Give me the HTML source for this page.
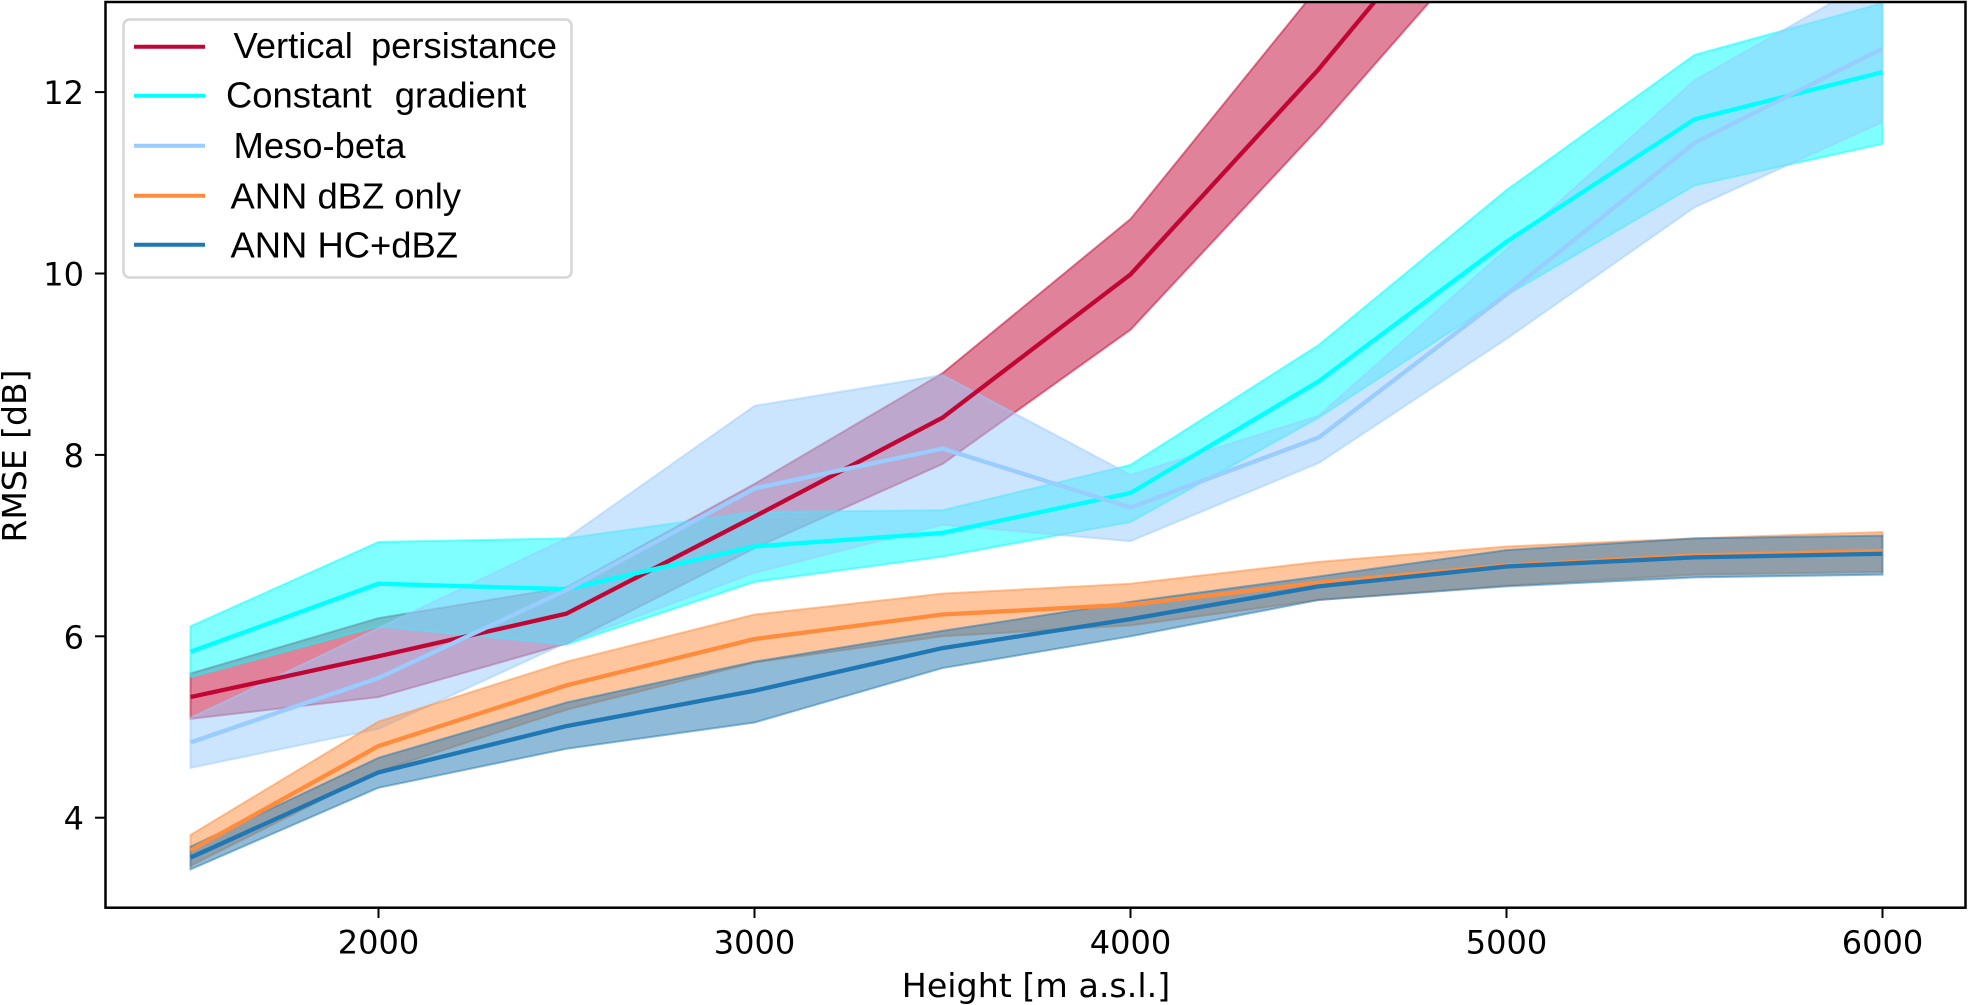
<!DOCTYPE html>
<html lang="en">
<head>
<meta charset="utf-8">
<title>RMSE by height</title>
<style>
html,body{margin:0;padding:0;background:#fff;width:1968px;height:1005px;overflow:hidden}
svg{display:block}
text{font-family:"DejaVu Sans","Liberation Sans",sans-serif;fill:#000}
.lg{font-family:"Liberation Sans",sans-serif}
</style>
</head>
<body>
<svg id="chart" xmlns="http://www.w3.org/2000/svg" width="1968" height="1005" viewBox="0 0 1968 1005">
  <defs><clipPath id="plot-clip"><rect x="105.5" y="2" width="1860" height="905.7"/></clipPath></defs>
  <rect width="1968" height="1005" fill="#fff"/>
  <g id="bands" clip-path="url(#plot-clip)"></g>
  <g id="lines" clip-path="url(#plot-clip)"></g>
  <g id="xticks"></g>
  <g id="yticks"></g>
  <rect x="105.5" y="2" width="1860" height="905.7" fill="none" stroke="#000" stroke-width="2.5"/>
  <text x="1036" y="997" font-size="33.3" text-anchor="middle">Height [m a.s.l.]</text>
  <text transform="translate(26,456) rotate(-90)" font-size="33" text-anchor="middle">RMSE [dB]</text>
  <g>
    <rect x="123.5" y="19.5" width="448" height="258" rx="6" fill="#fff" stroke="#d6d6d6" stroke-width="2.5"/>
    <g>
      <line x1="134" x2="205" y1="46.7" y2="46.7" stroke="#c10534" stroke-width="4"/>
      <text class="lg" x="233.5" y="58" font-size="36.4" word-spacing="8">Vertical persistance</text>
    </g>
    <g>
      <line x1="134" x2="205" y1="95.7" y2="95.7" stroke="#00ffff" stroke-width="4"/>
      <text class="lg" x="226" y="107.5" font-size="36.4" word-spacing="13">Constant gradient</text>
    </g>
    <g>
      <line x1="134" x2="205" y1="145.7" y2="145.7" stroke="#99ccff" stroke-width="4"/>
      <text class="lg" x="233.5" y="158" font-size="36.4">Meso-beta</text>
    </g>
    <g>
      <line x1="134" x2="205" y1="195.7" y2="195.7" stroke="#ff8c3c" stroke-width="4"/>
      <text class="lg" x="230.5" y="208.5" font-size="36.4">ANN dBZ only</text>
    </g>
    <g>
      <line x1="134" x2="205" y1="244.7" y2="244.7" stroke="#1f77b4" stroke-width="4"/>
      <text class="lg" x="230.5" y="257.5" font-size="36.4">ANN HC+dBZ</text>
    </g>
  </g>
</svg>
<script>
const heights = [1500,2000,2500,3000,3500,4000,4500,5000,5500,6000];
const xTickValues = [2000,3000,4000,5000,6000];
const yTickValues = [4,6,8,10,12];

const verticalMean  = [5.33,5.78,6.25,7.32,8.41,9.99,12.25,14.75,17.5,20.0];
const verticalUpper = [5.59,6.20,6.54,7.68,8.90,10.60,13.16,15.5,18.4,21.0];
const verticalLower = [5.09,5.33,5.92,6.97,7.90,9.38,11.60,13.96,16.6,19.0];

const gradientMean  = [5.83,6.58,6.52,6.99,7.14,7.58,8.81,10.35,11.70,12.22];
const gradientUpper = [6.11,7.04,7.08,7.37,7.39,7.89,9.21,10.92,12.41,12.98];
const gradientLower = [5.55,6.11,5.91,6.60,6.88,7.26,8.41,9.76,10.97,11.43];

const mesoMean  = [4.83,5.54,6.51,7.63,8.07,7.42,8.19,9.77,11.44,12.48];
const mesoUpper = [5.10,6.09,7.08,8.54,8.88,7.78,8.43,10.27,12.13,13.30];
const mesoLower = [4.55,4.98,5.93,6.70,7.23,7.05,7.91,9.28,10.73,11.67];

const dbzMean  = [3.64,4.79,5.46,5.97,6.24,6.35,6.59,6.78,6.89,6.94];
const dbzUpper = [3.81,5.06,5.72,6.24,6.47,6.58,6.82,6.99,7.08,7.15];
const dbzLower = [3.47,4.51,5.19,5.71,6.00,6.12,6.40,6.56,6.68,6.71];

const hcMean  = [3.56,4.50,5.01,5.40,5.87,6.19,6.55,6.77,6.87,6.91];
const hcUpper = [3.68,4.66,5.27,5.72,6.06,6.38,6.66,6.95,7.08,7.11];
const hcLower = [3.43,4.33,4.76,5.05,5.65,6.00,6.40,6.55,6.65,6.68];

const seriesNames = ['vertical-persistance','constant-gradient','meso-beta','ann-dbz-only','ann-hc-dbz'];
const seriesColors = ['#c10534','#00ffff','#99ccff','#ff8c3c','#1f77b4'];
const seriesMeans = [verticalMean,gradientMean,mesoMean,dbzMean,hcMean];
const seriesUppers = [verticalUpper,gradientUpper,mesoUpper,dbzUpper,hcUpper];
const seriesLowers = [verticalLower,gradientLower,mesoLower,dbzLower,hcLower];

const NS = 'http://www.w3.org/2000/svg';
function xScale(v){ return 378.5 + (v - 2000) * 0.376; }
function yScale(v){ return 817.7 - (v - 4) * 90.7; }
function make(tag, attrs){
  const el = document.createElementNS(NS, tag);
  for (const k in attrs) el.setAttribute(k, attrs[k]);
  return el;
}
const bands = document.getElementById('bands');
const lines = document.getElementById('lines');
seriesNames.forEach(function(name, i){
  const upper = seriesUppers[i], lower = seriesLowers[i], mean = seriesMeans[i];
  const top = heights.map(function(h, j){ return xScale(h).toFixed(2) + ',' + yScale(upper[j]).toFixed(2); });
  const bot = heights.map(function(h, j){ return xScale(h).toFixed(2) + ',' + yScale(lower[j]).toFixed(2); }).reverse();
  const band = make('polygon', {points: top.concat(bot).join(' '), fill: seriesColors[i], 'fill-opacity': 0.5, stroke: seriesColors[i], 'stroke-opacity': 0.5, 'stroke-width': 2});
  
  
  bands.appendChild(band);
  const pts = heights.map(function(h, j){ return xScale(h).toFixed(2) + ',' + yScale(mean[j]).toFixed(2); }).join(' ');
  const line = make('polyline', {points: pts, fill: 'none', stroke: seriesColors[i], 'stroke-width': 4.3, 'stroke-linejoin': 'round'});
  
  
  lines.appendChild(line);
});
const xticks = document.getElementById('xticks');
xTickValues.forEach(function(v){
  const x = xScale(v);
  const t = make('line', {x1: x, x2: x, y1: 907.7, y2: 918, stroke: '#000', 'stroke-width': 2});
  
  
  xticks.appendChild(t);
  const l = make('text', {x: x, y: 953.5, 'font-size': 32, 'text-anchor': 'middle'});
  
  
  l.textContent = String(v);
  xticks.appendChild(l);
});
const yticks = document.getElementById('yticks');
yTickValues.forEach(function(v){
  const y = yScale(v);
  const t = make('line', {x1: 95, x2: 105.5, y1: y, y2: y, stroke: '#000', 'stroke-width': 2});
  
  
  yticks.appendChild(t);
  const l = make('text', {x: 84, y: y + 12, 'font-size': 32, 'text-anchor': 'end'});
  
  
  l.textContent = String(v);
  yticks.appendChild(l);
});
</script>
</body>
</html>
